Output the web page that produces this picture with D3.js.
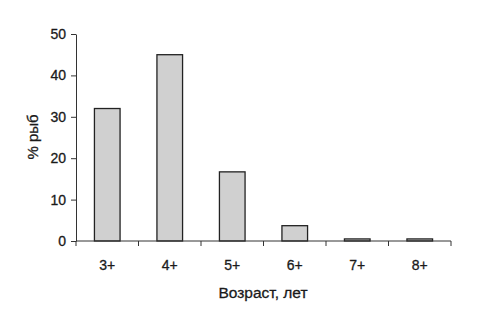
<!DOCTYPE html>
<html>
<head>
<meta charset="utf-8">
<script src="https://cdn.jsdelivr.net/npm/d3@7"></script>
<style>
body { margin: 0; background: #fff; }
svg text { font-family: "Liberation Sans", Arial, sans-serif; fill: #1a1a1a; stroke: #1a1a1a; stroke-width: 0.3px; }
</style>
</head>
<body>
<div class="chart"></div>
<script>
var ages = ["3+", "4+", "5+", "6+", "7+", "8+"];
var shares = [32, 45, 16.7, 3.7, 0.5, 0.5];
var yTicks = [0, 10, 20, 30, 40, 50];

var svg = d3.select(".chart").append("svg")
    .attr("width", 478)
    .attr("height", 317);

var x = d3.scaleBand()
    .domain(ages)
    .range([76, 451]);

var y = d3.scaleLinear()
    .domain([0, 50])
    .range([241, 34]);

var barW = x.bandwidth() * 0.41;

svg.selectAll("rect.bar")
    .data(ages).enter().append("rect")
    .attr("class", "bar")
    .attr("x", function(d) { return x(d) + (x.bandwidth() - barW) / 2; })
    .attr("y", function(d, i) { return y(shares[i]); })
    .attr("width", barW)
    .attr("height", function(d, i) { return y(0) - y(shares[i]); })
    .attr("fill", "#d0d0d0")
    .attr("stroke", "#222")
    .attr("stroke-width", 1.3);

// y axis
var yAxis = d3.axisLeft(y).tickValues(yTicks).tickSize(5).tickSizeOuter(0).tickPadding(5);
var gy = svg.append("g")
    .attr("transform", "translate(76,0)")
    .call(yAxis);
gy.selectAll("text").style("font-size", "14px");
gy.selectAll("path, line").attr("stroke", "#333");

// x axis: ticks at band edges
var gx = svg.append("g").attr("transform", "translate(0,241)");
gx.append("line")
    .attr("x1", x.range()[0]).attr("x2", x.range()[1])
    .attr("stroke", "#333");
var edges = ages.map(function(d) { return x(d); }).concat([x.range()[1]]);
gx.selectAll("line.tick")
    .data(edges).enter().append("line")
    .attr("class", "tick")
    .attr("x1", function(d) { return d; }).attr("x2", function(d) { return d; })
    .attr("y1", 0).attr("y2", 5)
    .attr("stroke", "#333");
gx.selectAll("text")
    .data(ages).enter().append("text")
    .attr("x", function(d) { return x(d) + x.bandwidth() / 2; })
    .attr("y", 29)
    .attr("text-anchor", "middle")
    .style("font-size", "14px")
    .text(function(d) { return d; });

svg.append("text")
    .attr("transform", "translate(38,137) rotate(-90)")
    .attr("text-anchor", "middle")
    .style("font-size", "15px")
    .text("% рыб");

svg.append("text")
    .attr("x", 263)
    .attr("y", 298)
    .attr("text-anchor", "middle")
    .style("font-size", "15.5px")
    .text("Возраст, лет");
</script>
</body>
</html>
